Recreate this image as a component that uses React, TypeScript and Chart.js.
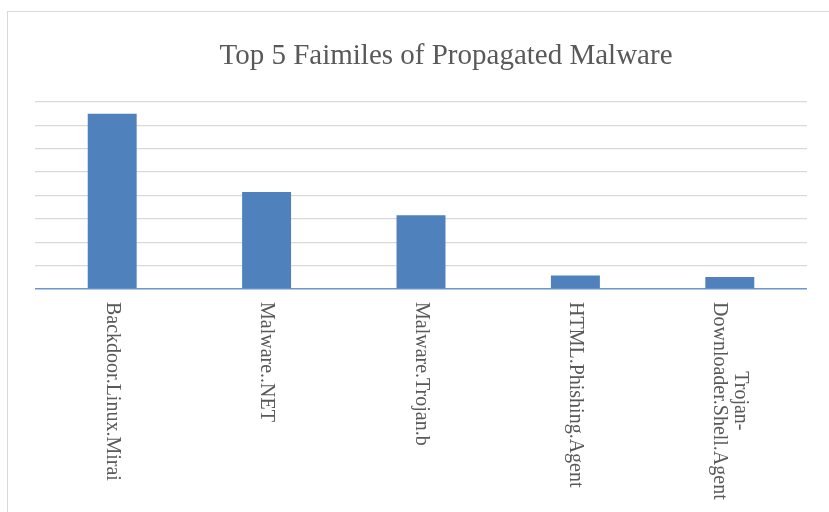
import React, { useEffect, useRef } from "react";
import { Chart, registerables } from "chart.js";

Chart.register(...registerables);

const TITLE = "Top 5 Faimiles of Propagated Malware";
const categories: (string | string[])[] = [
  "Backdoor.Linux.Mirai",
  "Malware..NET",
  "Malware.Trojan.b",
  "HTML.Phishing.Agent",
  ["Trojan-", "Downloader.Shell.Agent"],
];
const counts = [7.5, 4.15, 3.15, 0.58, 0.51];
const yTicks = [0, 1, 2, 3, 4, 5, 6, 7, 8];

const SERIF = "'Liberation Serif', 'Times New Roman', serif";

const textPlugin = {
  id: "textPlugin",
  afterDraw(chart: any) {
    const { ctx, scales, chartArea, width } = chart;
    const xs = scales.x;
    ctx.save();
    // title (centred on the full chart frame)
    ctx.font = `29px ${SERIF}`;
    ctx.fillStyle = "#595959";
    ctx.textAlign = "center";
    ctx.textBaseline = "alphabetic";
    ctx.fillText(TITLE, width / 2, 52);

    // category labels, rotated clockwise
    ctx.font = `20px ${SERIF}`;
    ctx.textBaseline = "middle";
    const lh = 21;
    categories.forEach((lab, i) => {
      const lines = Array.isArray(lab) ? lab : [lab];
      const x = xs.getPixelForValue(i);
      const widths = lines.map((l) => ctx.measureText(l).width);
      const maxW = Math.max(...widths);
      ctx.save();
      ctx.translate(x, chartArea.bottom + 13);
      ctx.rotate(Math.PI / 2);
      ctx.textAlign = "center";
      lines.forEach((l, k) => {
        const yy = (k - (lines.length - 1) / 2) * lh;
        ctx.fillText(l, maxW / 2, yy);
      });
      ctx.restore();
    });
    ctx.restore();
  },
};

export default function App() {
  const ref = useRef<HTMLCanvasElement | null>(null);
  useEffect(() => {
    if (!ref.current) return;
    const chart = new Chart(ref.current, {
      type: "bar",
      data: {
        labels: categories.map((c) => (Array.isArray(c) ? c.join(" ") : c)),
        datasets: [
          {
            data: counts,
            backgroundColor: "#4F81BD",
            borderWidth: 0,
            categoryPercentage: 1,
            barPercentage: 0.317,
          },
        ],
      },
      options: {
        animation: false,
        responsive: false,
        maintainAspectRatio: false,
        layout: { padding: { left: 27, right: 77, top: 90, bottom: 223 } },
        plugins: {
          legend: { display: false },
          tooltip: { enabled: false },
          title: { display: false },
        },
        scales: {
          x: { display: false },
          y: {
            display: true,
            min: yTicks[0],
            max: yTicks[yTicks.length - 1],
            afterBuildTicks: (s: any) => {
              s.ticks = yTicks.map((v) => ({ value: v }));
            },
            ticks: { display: false },
            border: { display: false },
            grid: {
              drawTicks: false,
              color: (c: any) => (c.tick && c.tick.value === 0 ? "#6A96CB" : "#D9D9D9"),
              lineWidth: (c: any) => (c.tick && c.tick.value === 0 ? 1.5 : 1.3),
            },
          },
        },
      },
      plugins: [textPlugin],
    });
    return () => chart.destroy();
  }, []);

  return (
    <div
      style={{
        position: "fixed",
        left: 0,
        top: 0,
        width: 829,
        height: 512,
        overflow: "hidden",
        background: "#ffffff",
      }}
    >
      <div
        style={{
          position: "absolute",
          left: 7,
          top: 11,
          width: 878,
          height: 520,
          border: "1px solid #D9D9D9",
          background: "#ffffff",
        }}
      >
        <canvas ref={ref} width={876} height={500} style={{ display: "block" }} />
      </div>
    </div>
  );
}
